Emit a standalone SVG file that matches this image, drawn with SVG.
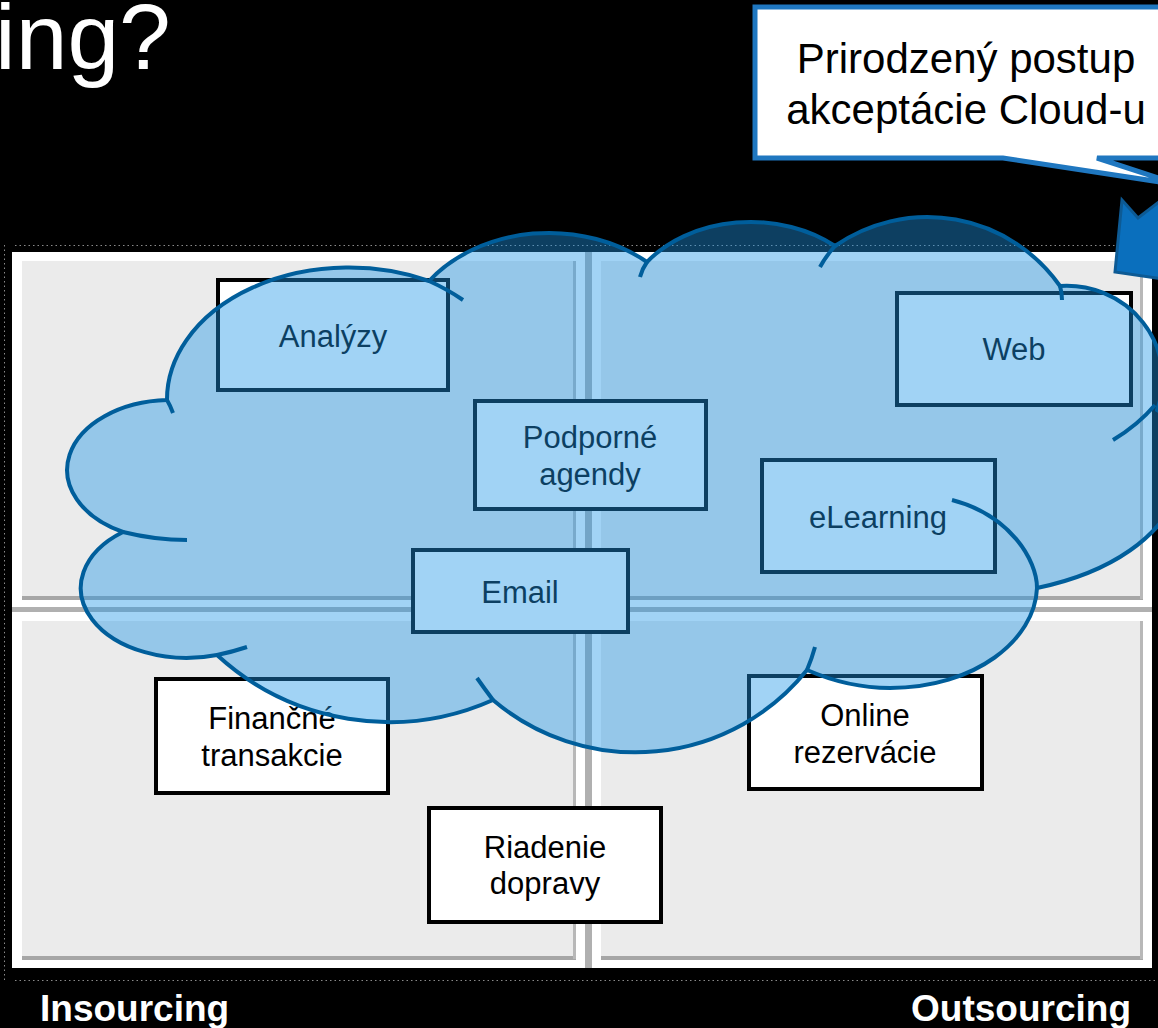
<svg xmlns="http://www.w3.org/2000/svg" width="1158" height="1028" viewBox="0 0 1158 1028">
<style>
.outer{fill:#ffffff;}
.inner{fill:#ebebeb;}
.shb{fill:#a6a6a6;}
.shr{fill:#b8b8b8;}
.box{fill:#ffffff;stroke:#000000;stroke-width:4;}
.lbl{font-family:"Liberation Sans",Arial,sans-serif;font-size:31px;fill:#000000;text-anchor:middle;}
.cloud{fill:rgb(30,150,230);fill-opacity:0.42;stroke:#005e9b;stroke-width:4;stroke-linejoin:round;}
.tail{fill:none;stroke:#005e9b;stroke-width:4;stroke-linecap:butt;}
.dots{stroke:#8a8a8a;stroke-width:1;stroke-dasharray:1.5 3;fill:none;}
.axis{font-family:"Liberation Sans",Arial,sans-serif;font-size:37px;font-weight:bold;fill:#ffffff;}
</style>
<rect x="0" y="0" width="1158" height="1028" fill="#000000"/>
<text x="-5" y="69" font-family="Liberation Sans, Arial, sans-serif" font-size="93" fill="#ffffff">ing?</text>

<g id="panels">
  <line class="dots" x1="15" y1="245.5" x2="1158" y2="245.5"/>
  <line class="dots" x1="15" y1="980.5" x2="1158" y2="980.5"/>
  <line class="dots" x1="4.5" y1="245" x2="4.5" y2="980"/>
  <rect x="585" y="252" width="7" height="716" fill="#b0b0b0"/>
  <rect x="12" y="607" width="1140" height="5" fill="#b0b0b0"/>
  <rect class="outer" x="12" y="252" width="573" height="355"/>
  <rect class="inner" x="22" y="261" width="554" height="338"/>
  <rect class="shb" x="22" y="596" width="554" height="4"/>
  <rect class="shr" x="573" y="261" width="3" height="338"/>
  <rect class="outer" x="592" y="252" width="560" height="355"/>
  <rect class="inner" x="601" y="261" width="542" height="338"/>
  <rect class="shb" x="601" y="596" width="542" height="4"/>
  <rect class="shr" x="1140" y="261" width="3" height="338"/>
  <rect class="outer" x="12" y="612" width="573" height="356"/>
  <rect class="inner" x="22" y="621" width="554" height="338"/>
  <rect class="shb" x="22" y="956" width="554" height="4"/>
  <rect class="shr" x="573" y="621" width="3" height="338"/>
  <rect class="outer" x="592" y="612" width="560" height="356"/>
  <rect class="inner" x="601" y="621" width="542" height="338"/>
  <rect class="shb" x="601" y="956" width="542" height="4"/>
  <rect class="shr" x="1140" y="621" width="3" height="338"/>
</g>

<g id="n-analyzy"><rect class="box" x="218" y="280" width="230" height="110"/><text class="lbl" x="333" y="347">Analýzy</text></g>
<g id="n-podporne"><rect class="box" x="475" y="401" width="231" height="108"/><text class="lbl" x="590" y="448">Podporné</text><text class="lbl" x="590" y="485">agendy</text></g>
<g id="n-email"><rect class="box" x="413" y="550" width="215" height="82"/><text class="lbl" x="520" y="603">Email</text></g>
<g id="n-web"><rect class="box" x="897" y="293" width="234" height="112"/><text class="lbl" x="1014" y="360">Web</text></g>
<g id="n-elearning"><rect class="box" x="762" y="460" width="233" height="112"/><text class="lbl" x="878" y="528">eLearning</text></g>
<g id="n-financne"><rect class="box" x="156" y="679" width="232" height="114"/><text class="lbl" x="272" y="729">Finančné</text><text class="lbl" x="272" y="766">transakcie</text></g>
<g id="n-riadenie"><rect class="box" x="429" y="808" width="232" height="114"/><text class="lbl" x="545" y="858">Riadenie</text><text class="lbl" x="545" y="894">dopravy</text></g>
<g id="n-online"><rect class="box" x="749" y="676" width="233" height="113"/><text class="lbl" x="865" y="726">Online</text><text class="lbl" x="865" y="763">rezervácie</text></g>

<g id="cloud">
  <path class="cloud" d="M167,400 A182,132 0 0 1 429,281 A150,120 0 0 1 647,262 A128,97 0 0 1 835,246 A162,162 0 0 1 1060,286 A96,93 0 0 1 1157,410 C1210,440 1195,555 1037,588 C1035,640 975,688 890,688 C860,688 830,680 807,670 A220,220 0 0 1 493,700 A255,255 0 0 1 217,655 A106,70 0 0 1 123,532 A104,70 0 0 1 167,400 Z"/>
  <path class="tail" d="M167,400 Q170,405 173,413"/>
  <path class="tail" d="M429,281 Q447,289 463,300"/>
  <path class="tail" d="M647,262 Q642,269 640,277"/>
  <path class="tail" d="M835,246 Q826,256 820,267"/>
  <path class="tail" d="M1060,286 Q1062,293 1062,300"/>
  <path class="tail" d="M1155,405 Q1138,425 1113,440"/>
  <path class="tail" d="M1037,588 C1037,560 1010,515 952,500"/>
  <path class="tail" d="M807,670 Q812,658 815,647"/>
  <path class="tail" d="M493,700 Q484,688 477,678"/>
  <path class="tail" d="M217,655 Q232,652 247,647"/>
  <path class="tail" d="M123,532 Q155,540 187,540"/>
</g>

<g id="callout">
  <path d="M755,7 H1200 V158 H1097 L1180,185 L1003,158 H755 Z" fill="#ffffff" stroke="#1f77c0" stroke-width="5" stroke-linejoin="miter"/>
  <text class="lbl" x="966" y="73" style="font-size:42px">Prirodzený postup</text>
  <text class="lbl" x="966" y="124" style="font-size:42px">akceptácie Cloud-u</text>
</g>

<g id="connectors">
  <polygon points="1122,200 1138,218 1172,192 1205,235 1190,283 1115,272" fill="#0a6fbd" stroke="#0d5a94" stroke-width="3" stroke-linejoin="miter"/>
</g>

<g id="axis-labels">
  <text class="axis" x="40" y="1021">Insourcing</text>
  <text class="axis" x="1131" y="1021" text-anchor="end">Outsourcing</text>
</g>
</svg>
